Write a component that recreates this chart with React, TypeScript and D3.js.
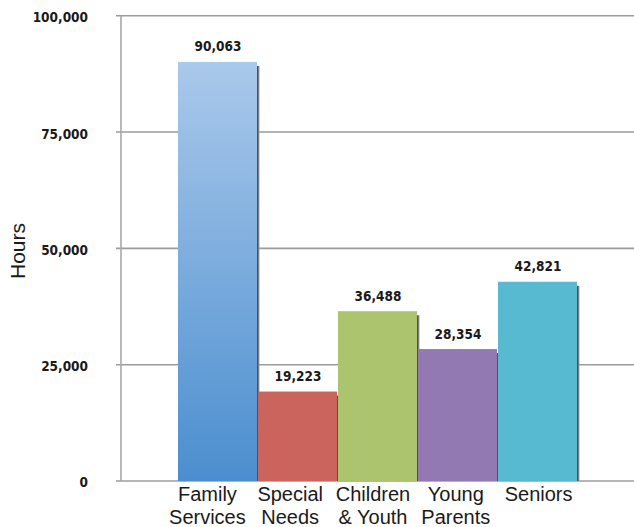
import React, { useEffect, useRef } from 'react';
import * as d3 from 'd3';

// Volunteer hours by program area
const categories = ['Family Services', 'Special Needs', 'Children & Youth', 'Young Parents', 'Seniors'];
const categoryLines = [
  ['Family', 'Services'],
  ['Special', 'Needs'],
  ['Children', '& Youth'],
  ['Young', 'Parents'],
  ['Seniors'],
];
const hours = [90063, 19223, 36488, 28354, 42821];
const barColors = ['#4f90d0', '#cc645e', '#abc46d', '#9279b1', '#57bad1'];
const yTicks = [0, 25000, 50000, 75000, 100000];

const W = 634;
const H = 527;

export default function App() {
  const ref = useRef<SVGSVGElement | null>(null);

  useEffect(() => {
    if (!ref.current) return;
    const svg = d3.select(ref.current);
    svg.selectAll('*').remove();

    const left = 121;
    const top = 15.7;
    const bottom = 481;

    const y = d3.scaleLinear().domain([0, 100000]).range([bottom, top]);
    const x = d3.scaleBand<string>().domain(categories).range([178, 578]).padding(0);
    // category labels sit on a slightly wider spacing than the bars
    const xLabel = d3.scaleBand<string>().domain(categories).range([166, 580]).padding(0);

    const defs = svg.append('defs');
    const grad = defs.append('linearGradient')
      .attr('id', 'famGrad')
      .attr('x1', 0).attr('y1', 0).attr('x2', 0).attr('y2', 1);
    grad.append('stop').attr('offset', '0%').attr('stop-color', '#aac9eb');
    grad.append('stop').attr('offset', '100%').attr('stop-color', '#4b8ecf');

    const shadow = defs.append('linearGradient')
      .attr('id', 'shadowGrad')
      .attr('x1', 0).attr('y1', 0).attr('x2', 1).attr('y2', 0);
    shadow.append('stop').attr('offset', '0%').attr('stop-color', '#3a3a3a');
    shadow.append('stop').attr('offset', '100%').attr('stop-color', '#aaa');

    const numFont = '"DejaVu Sans Condensed", "DejaVu Sans", sans-serif';
    const textFont = '"Liberation Sans", Arial, sans-serif';

    // gridlines (extend a few px left of the axis as ticks)
    svg.append('g')
      .selectAll('line')
      .data(yTicks)
      .join('line')
      .attr('x1', left - 5)
      .attr('x2', W)
      .attr('y1', d => y(d))
      .attr('y2', d => y(d))
      .attr('stroke', '#9c9c9c')
      .attr('stroke-width', 1.6);

    svg.append('line')
      .attr('x1', left).attr('x2', left)
      .attr('y1', y(100000)).attr('y2', y(0))
      .attr('stroke', '#a8a8a8')
      .attr('stroke-width', 1.6);

    // tick labels
    svg.append('g')
      .selectAll('text')
      .data(yTicks)
      .join('text')
      .attr('x', 88)
      .attr('y', d => y(d))
      .attr('dy', '0.48em')
      .attr('text-anchor', 'end')
      .attr('font-family', numFont)
      .attr('font-stretch', 'condensed')
      .attr('font-weight', 'bold')
      .attr('font-size', 13.5)
      .attr('fill', '#1a1a1a')
      .text(d => d3.format(',')(d));

    // shadows
    svg.append('g')
      .selectAll('rect')
      .data(hours)
      .join('rect')
      .attr('x', (_, i) => x(categories[i])! + x.bandwidth() - 1)
      .attr('y', d => y(d) + 4)
      .attr('width', 2.5)
      .attr('height', d => y(0) - y(d) - 4)
      .attr('fill', 'url(#shadowGrad)');

    // bars
    svg.append('g')
      .selectAll('rect')
      .data(hours)
      .join('rect')
      .attr('x', (_, i) => x(categories[i])!)
      .attr('y', d => y(d))
      .attr('width', x.bandwidth() - 1)
      .attr('height', d => y(0) - y(d))
      .attr('fill', (_, i) => (i === 0 ? 'url(#famGrad)' : barColors[i]));

    // value labels
    svg.append('g')
      .selectAll('text')
      .data(hours)
      .join('text')
      .attr('x', (_, i) => x(categories[i])! + x.bandwidth() / 2)
      .attr('y', d => y(d) - 10.5)
      .attr('text-anchor', 'middle')
      .attr('font-family', numFont)
      .attr('font-stretch', 'condensed')
      .attr('font-weight', 'bold')
      .attr('font-size', 13.5)
      .attr('fill', '#1a1a1a')
      .text(d => d3.format(',')(d));

    // category labels
    const cat = svg.append('g')
      .selectAll('text')
      .data(categories)
      .join('text')
      .attr('x', d => xLabel(d)! + xLabel.bandwidth() / 2)
      .attr('y', 501)
      .attr('text-anchor', 'middle')
      .attr('font-family', textFont)
      .attr('font-size', 20)
      .attr('fill', '#1a1a1a');
    cat.selectAll('tspan')
      .data((_, i) => categoryLines[i])
      .join('tspan')
      .attr('x', function () {
        return (this.parentNode as SVGTextElement).getAttribute('x');
      })
      .attr('dy', (_, j) => (j === 0 ? 0 : 22.5))
      .text(d => d);

    // y axis title
    svg.append('text')
      .attr('transform', 'translate(25,251) rotate(-90)')
      .attr('text-anchor', 'middle')
      .attr('font-family', textFont)
      .attr('font-size', 21)
      .attr('fill', '#1a1a1a')
      .text('Hours');
  }, []);

  return (
    <svg
      ref={ref}
      width={W}
      height={H}
      style={{ position: 'absolute', left: 0, top: 0, background: '#fff' }}
    ></svg>
  );
}
